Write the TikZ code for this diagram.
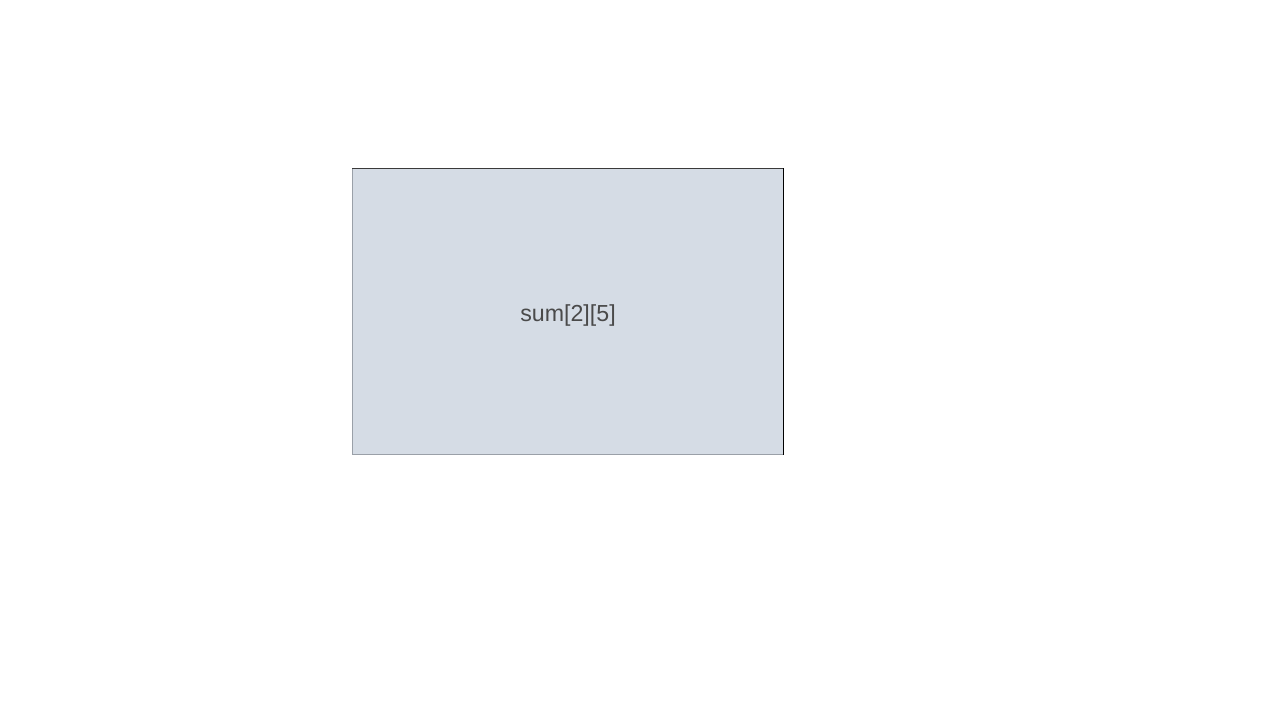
\documentclass[tikz,border=0pt]{standalone}
\usepackage{fontspec}
\setmainfont{Liberation Sans}
\usetikzlibrary{positioning}
\definecolor{cellfill}{HTML}{D5DCE5}
\definecolor{edgedark}{HTML}{3A3A3A}
\definecolor{edgelight}{HTML}{9AA0A8}
\definecolor{celltext}{HTML}{4A4A4A}
\tikzset{
  cell/.style={rectangle, minimum width=4.3cm, minimum height=2.85cm, inner sep=0pt, fill=cellfill},
  celllabel/.style={inner sep=0pt, text=celltext, font=\fontsize{6.6}{8}\selectfont},
  edgetop/.style={edgedark, line width=0.35pt},
  edgeright/.style={black, line width=0.4pt},
  edgelow/.style={edgelight, line width=0.35pt}
}

\begin{document}
\begin{tikzpicture}
    \useasboundingbox (0,0) rectangle (12.8,7.2);
    \node (sum) [cell] at (5.68,4.085) {};
    \node (sumlabel) [celllabel] at ([yshift=-0.04cm]sum.center) {sum[2][5]};

    % bevelled border
    \draw[edgelow] (sum.north west) -- (sum.south west) -- (sum.south east);
    \draw[edgetop] (sum.north west) -- (sum.north east);
    \draw[edgeright] (sum.north east) -- (sum.south east);
  \end{tikzpicture}
\end{document}
